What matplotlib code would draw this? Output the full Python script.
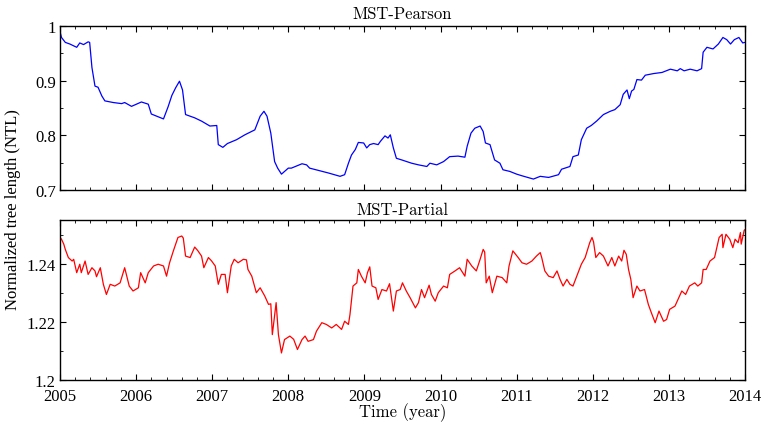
import numpy as np
import matplotlib
matplotlib.use("Agg")
import matplotlib.pyplot as plt
from matplotlib.ticker import MultipleLocator, FuncFormatter

plt.rcParams['font.family'] = ['cmr10', 'DejaVu Serif']
plt.rcParams['axes.formatter.use_mathtext'] = True
plt.rcParams['font.size'] = 12
TICK_FONT = 'Liberation Serif'

# MST-Pearson NTL (year, value)
pearson_t = [2005.00, 2005.02, 2005.07, 2005.13, 2005.22, 2005.26, 2005.31, 2005.37, 2005.39,
             2005.42, 2005.46, 2005.50, 2005.55, 2005.59, 2005.70, 2005.81, 2005.85, 2005.94,
             2006.07, 2006.16, 2006.20, 2006.36, 2006.42, 2006.47, 2006.52, 2006.57, 2006.61,
             2006.65, 2006.71, 2006.77, 2006.86, 2006.97, 2007.06, 2007.08, 2007.14, 2007.20,
             2007.32, 2007.43, 2007.56, 2007.63, 2007.68, 2007.72, 2007.77, 2007.82, 2007.86,
             2007.91, 2008.00, 2008.04, 2008.18, 2008.24, 2008.28, 2008.39, 2008.53, 2008.68,
             2008.74, 2008.79, 2008.83, 2008.88, 2008.92, 2008.99, 2009.03, 2009.07, 2009.12,
             2009.18, 2009.21, 2009.27, 2009.31, 2009.34, 2009.38, 2009.42, 2009.49, 2009.62,
             2009.71, 2009.82, 2009.86, 2009.95, 2010.04, 2010.12, 2010.23, 2010.32, 2010.35,
             2010.40, 2010.45, 2010.52, 2010.54, 2010.56, 2010.59, 2010.65, 2010.71, 2010.78,
             2010.82, 2010.91, 2011.00, 2011.07, 2011.22, 2011.31, 2011.42, 2011.55, 2011.59,
             2011.70, 2011.74, 2011.81, 2011.85, 2011.92, 2011.98, 2012.05, 2012.14, 2012.23,
             2012.29, 2012.36, 2012.40, 2012.45, 2012.48, 2012.51, 2012.54, 2012.58, 2012.64,
             2012.69, 2012.80, 2012.91, 2013.02, 2013.11, 2013.15, 2013.20, 2013.28, 2013.37,
             2013.43, 2013.45, 2013.50, 2013.58, 2013.65, 2013.71, 2013.76, 2013.81, 2013.86,
             2013.92, 2013.97, 2014.00]
pearson_v = [0.990, 0.979, 0.970, 0.967, 0.961, 0.969, 0.966, 0.971, 0.970,
             0.924, 0.890, 0.888, 0.872, 0.863, 0.860, 0.858, 0.860, 0.853,
             0.861, 0.857, 0.839, 0.830, 0.852, 0.873, 0.887, 0.899, 0.883,
             0.838, 0.835, 0.832, 0.826, 0.817, 0.818, 0.783, 0.778, 0.785,
             0.792, 0.801, 0.810, 0.835, 0.844, 0.835, 0.804, 0.752, 0.740,
             0.729, 0.740, 0.740, 0.748, 0.746, 0.740, 0.736, 0.731, 0.725,
             0.728, 0.749, 0.764, 0.774, 0.787, 0.786, 0.777, 0.783, 0.785,
             0.783, 0.789, 0.799, 0.795, 0.801, 0.777, 0.758, 0.755, 0.749,
             0.746, 0.743, 0.749, 0.746, 0.752, 0.761, 0.762, 0.760, 0.780,
             0.804, 0.813, 0.817, 0.812, 0.807, 0.786, 0.783, 0.755, 0.749,
             0.737, 0.734, 0.729, 0.726, 0.720, 0.725, 0.723, 0.728, 0.738,
             0.743, 0.761, 0.764, 0.792, 0.813, 0.818, 0.826, 0.838, 0.844,
             0.847, 0.856, 0.875, 0.883, 0.867, 0.881, 0.884, 0.902, 0.901,
             0.910, 0.913, 0.915, 0.921, 0.918, 0.922, 0.918, 0.921, 0.918,
             0.922, 0.952, 0.961, 0.958, 0.967, 0.979, 0.975, 0.967, 0.975,
             0.979, 0.969, 0.970]

# MST-Partial NTL (year, value)
partial_t = [2005.00, 2005.02, 2005.05, 2005.07, 2005.11, 2005.16, 2005.18, 2005.22, 2005.26,
             2005.28, 2005.33, 2005.37, 2005.42, 2005.46, 2005.48, 2005.53, 2005.57, 2005.61,
             2005.66, 2005.72, 2005.79, 2005.85, 2005.91, 2005.96, 2006.03, 2006.06, 2006.12,
             2006.16, 2006.23, 2006.29, 2006.36, 2006.40, 2006.44, 2006.49, 2006.55, 2006.60,
             2006.62, 2006.65, 2006.71, 2006.77, 2006.81, 2006.86, 2006.89, 2006.95, 2006.99,
             2007.04, 2007.08, 2007.12, 2007.17, 2007.20, 2007.25, 2007.29, 2007.34, 2007.41,
             2007.45, 2007.47, 2007.52, 2007.58, 2007.63, 2007.69, 2007.74, 2007.77, 2007.79,
             2007.84, 2007.87, 2007.91, 2007.95, 2008.02, 2008.07, 2008.12, 2008.18, 2008.22,
             2008.26, 2008.33, 2008.37, 2008.44, 2008.50, 2008.57, 2008.63, 2008.70, 2008.74,
             2008.79, 2008.81, 2008.85, 2008.90, 2008.92, 2008.96, 2009.01, 2009.04, 2009.07,
             2009.10, 2009.15, 2009.18, 2009.23, 2009.29, 2009.33, 2009.38, 2009.42, 2009.47,
             2009.50, 2009.55, 2009.60, 2009.67, 2009.71, 2009.75, 2009.79, 2009.85, 2009.88,
             2009.93, 2009.97, 2010.04, 2010.09, 2010.12, 2010.19, 2010.25, 2010.32, 2010.35,
             2010.41, 2010.47, 2010.52, 2010.56, 2010.58, 2010.60, 2010.64, 2010.68, 2010.74,
             2010.81, 2010.87, 2010.90, 2010.95, 2011.02, 2011.07, 2011.13, 2011.20, 2011.26,
             2011.31, 2011.33, 2011.37, 2011.42, 2011.48, 2011.53, 2011.57, 2011.61, 2011.66,
             2011.70, 2011.74, 2011.79, 2011.85, 2011.90, 2011.96, 2011.99, 2012.01, 2012.04,
             2012.09, 2012.14, 2012.20, 2012.25, 2012.29, 2012.34, 2012.38, 2012.41, 2012.44,
             2012.47, 2012.50, 2012.53, 2012.58, 2012.62, 2012.68, 2012.73, 2012.77, 2012.82,
             2012.87, 2012.93, 2012.97, 2013.01, 2013.08, 2013.12, 2013.17, 2013.22, 2013.27,
             2013.34, 2013.38, 2013.43, 2013.45, 2013.49, 2013.54, 2013.60, 2013.66, 2013.70,
             2013.71, 2013.75, 2013.80, 2013.84, 2013.87, 2013.91, 2013.94, 2013.95, 2013.99,
             2014.02]
partial_v = [1.2490, 1.2484, 1.2467, 1.2449, 1.2421, 1.2409, 1.2415, 1.2369, 1.2398,
             1.2369, 1.2409, 1.2363, 1.2386, 1.2375, 1.2355, 1.2386, 1.2329, 1.2294,
             1.2329, 1.2323, 1.2334, 1.2386, 1.2323, 1.2306, 1.2317, 1.2369, 1.2334,
             1.2369, 1.2392, 1.2398, 1.2392, 1.2357, 1.2403, 1.2444, 1.2490, 1.2495,
             1.2488, 1.2426, 1.2421, 1.2457, 1.2445, 1.2426, 1.2386, 1.2421, 1.2410,
             1.2392, 1.2329, 1.2363, 1.2363, 1.2300, 1.2392, 1.2415, 1.2403, 1.2415,
             1.2413, 1.2380, 1.2357, 1.2300, 1.2317, 1.2289, 1.2260, 1.2262, 1.2156,
             1.2266, 1.2156, 1.2093, 1.2139, 1.2151, 1.2140, 1.2105, 1.2139, 1.2151,
             1.2133, 1.2139, 1.2168, 1.2197, 1.2191, 1.2179, 1.2191, 1.2174, 1.2202,
             1.2191, 1.2225, 1.2323, 1.2334, 1.2380, 1.2357, 1.2334, 1.2369, 1.2389,
             1.2323, 1.2317, 1.2277, 1.2311, 1.2306, 1.2331, 1.2237, 1.2306, 1.2311,
             1.2334, 1.2306, 1.2283, 1.2248, 1.2266, 1.2311, 1.2283, 1.2326, 1.2294,
             1.2271, 1.2300, 1.2323, 1.2317, 1.2363, 1.2375, 1.2386, 1.2357, 1.2415,
             1.2392, 1.2375, 1.2415, 1.2449, 1.2440, 1.2334, 1.2357, 1.2300, 1.2357,
             1.2352, 1.2334, 1.2392, 1.2444, 1.2421, 1.2403, 1.2398, 1.2409, 1.2426,
             1.2438, 1.2420, 1.2375, 1.2357, 1.2352, 1.2375, 1.2346, 1.2323, 1.2346,
             1.2329, 1.2323, 1.2357, 1.2398, 1.2421, 1.2472, 1.2490, 1.2475, 1.2421,
             1.2438, 1.2426, 1.2392, 1.2421, 1.2392, 1.2426, 1.2409, 1.2446, 1.2432,
             1.2380, 1.2346, 1.2283, 1.2323, 1.2306, 1.2311, 1.2260, 1.2231, 1.2197,
             1.2237, 1.2202, 1.2208, 1.2243, 1.2254, 1.2277, 1.2306, 1.2294, 1.2323,
             1.2334, 1.2323, 1.2334, 1.2380, 1.2380, 1.2409, 1.2421, 1.2490, 1.2501,
             1.2455, 1.2501, 1.2484, 1.2455, 1.2484, 1.2472, 1.2507, 1.2467, 1.2515,
             1.2520]

years = list(range(2005, 2015))

fig = plt.figure(figsize=(7.63, 4.27), dpi=100)
ax1 = fig.add_axes([0.0786, 0.5527, 0.8978, 0.3841])
ax2 = fig.add_axes([0.0786, 0.1077, 0.8978, 0.3747])

ax1.plot(pearson_t, pearson_v, color='blue', lw=0.9)
ax2.plot(partial_t, partial_v, color='red', lw=0.9)

ax1.set_ylim(0.7, 1.0)
ax1.yaxis.set_major_locator(MultipleLocator(0.1))
ax1.yaxis.set_minor_locator(MultipleLocator(0.05))
ax2.set_ylim(1.2, 1.255)
ax2.yaxis.set_major_locator(MultipleLocator(0.02))
ax2.yaxis.set_minor_locator(MultipleLocator(0.01))

fmt = FuncFormatter(lambda v, p: '%g' % round(v, 4))
for ax in (ax1, ax2):
    ax.set_xlim(2005, 2014)
    ax.set_xticks(years)
    ax.xaxis.set_minor_locator(MultipleLocator(0.2))
    ax.yaxis.set_major_formatter(fmt)
    ax.tick_params(which='both', direction='in', top=True, right=True, labelsize=12)
    ax.tick_params(which='major', length=4.5, width=0.8)
    ax.tick_params(which='minor', length=2.5, width=0.6)
    ax.tick_params(axis='y', pad=3)
    for s in ax.spines.values():
        s.set_linewidth(1.0)
    for lab in ax.get_yticklabels():
        lab.set_fontfamily(TICK_FONT)

ax1.set_xticklabels([])
ax2.set_xticklabels([str(y) for y in years], fontfamily=TICK_FONT)
ax2.tick_params(axis='x', pad=5.5)

ax1.set_title('MST-Pearson', fontsize=12, pad=6)
ax2.set_title('MST-Partial', fontsize=12, pad=4)
ax2.set_xlabel('Time (year)', fontsize=12, labelpad=-1)
fig.text(0.017, 0.51, 'Normalized tree length (NTL)', rotation=90,
         ha='center', va='center', fontsize=12, fontfamily=TICK_FONT)

fig.savefig('out.png', dpi=100)
